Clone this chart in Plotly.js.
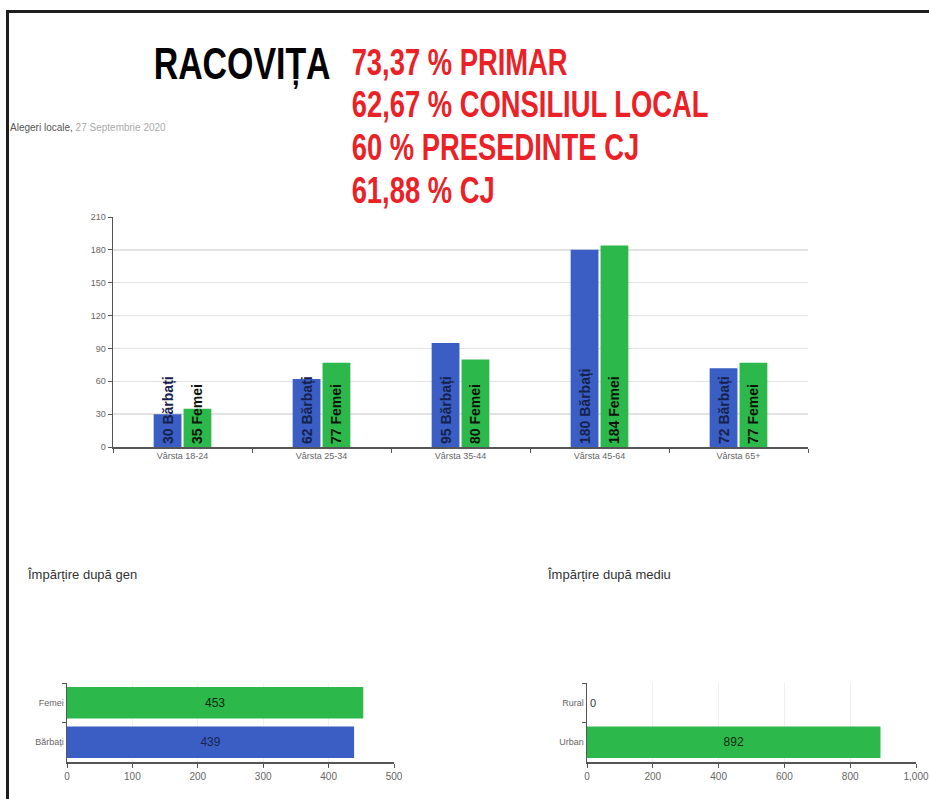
<!DOCTYPE html>
<html>
<head>
<meta charset="utf-8">
<script src="https://cdn.plot.ly/plotly-3.0.1.min.js"></script>
<style>
  html, body { margin: 0; padding: 0; background: #fff; }
  #wrap { position: relative; width: 929px; height: 799px; }
  #chart { width: 929px; height: 799px; }
  #frame { position: absolute; left: 6px; top: 10px; right: 0; bottom: 0;
           border-top: 3px solid #1e1e1e; border-left: 3px solid #1e1e1e; pointer-events: none; }
</style>
</head>
<body>
<div id="wrap"><div id="chart"></div><div id="frame"></div></div>
<script>
// ---- data ----
const ageCategories = ['Vârsta 18-24', 'Vârsta 25-34', 'Vârsta 35-44', 'Vârsta 45-64', 'Vârsta 65+'];
const menValues = [30, 62, 95, 180, 72];
const womenValues = [35, 77, 80, 184, 77];
const menLabel = 'Bărbați';
const womenLabel = 'Femei';
const ageTicks = [0, 30, 60, 90, 120, 150, 180, 210];

const genderCategories = ['Bărbați', 'Femei'];
const genderValues = [439, 453];
const genderTicks = [0, 100, 200, 300, 400, 500];

const areaCategories = ['Urban', 'Rural'];
const areaValues = [892, 0];
const areaTicks = [0, 200, 400, 600, 800, 1000];

const headline = 'RACOVIȚA';
const results = ['73,37 % PRIMAR', '62,67 % CONSILIUL LOCAL', '60 % PRESEDINTE CJ', '61,88 % CJ'];
const subtitleA = 'Alegeri locale,';
const subtitleB = '27 Septembrie 2020';
const genderTitle = 'Împărțire după gen';
const areaTitle = 'Împărțire după mediu';

// ---- styles ----
const BLUE = '#3a5ec4';
const GREEN = '#2cb84a';
const W = 929, H = 799;
const px = x => x / W;
const py = y => 1 - y / H;
const SANS = 'Liberation Sans, Arial, sans-serif';
const tickFont = { family: SANS, size: 9, color: '#666' };

const traces = [
  {
    type: 'bar', x: ageCategories, y: menValues, xaxis: 'x', yaxis: 'y',
    marker: { color: BLUE },
    text: menValues.map(v => v + ' ' + menLabel),
    textposition: 'inside', insidetextanchor: 'start', textangle: -90, constraintext: 'none',
    textfont: { family: SANS, size: 14, color: '#16224d', weight: 'bold' },
    hoverinfo: 'skip', cliponaxis: false
  },
  {
    type: 'bar', x: ageCategories, y: womenValues, xaxis: 'x', yaxis: 'y',
    marker: { color: GREEN },
    text: womenValues.map(v => v + ' ' + womenLabel),
    textposition: 'inside', insidetextanchor: 'start', textangle: -90, constraintext: 'none',
    textfont: { family: SANS, size: 14, color: '#0a140a', weight: 'bold' },
    hoverinfo: 'skip', cliponaxis: false
  },
  {
    type: 'bar', orientation: 'h', y: genderCategories, x: genderValues, xaxis: 'x2', yaxis: 'y2',
    marker: { color: [BLUE, GREEN] }, width: 0.8,
    text: genderValues.map(String), textposition: 'inside', insidetextanchor: 'middle', textangle: 0,
    textfont: { family: SANS, size: 12, color: ['#1a2550', '#0f2a12'] },
    hoverinfo: 'skip'
  },
  {
    type: 'bar', orientation: 'h', y: areaCategories, x: areaValues, xaxis: 'x3', yaxis: 'y3',
    marker: { color: [GREEN, GREEN] }, width: 0.8,
    text: areaValues.map(String), textposition: ['inside', 'outside'], insidetextanchor: 'middle', textangle: 0,
    textfont: { family: SANS, size: 12, color: '#0f2a12' },
    outsidetextfont: { family: SANS, size: 11, color: '#333' },
    hoverinfo: 'skip', cliponaxis: false
  }
];

const axisLine = { showline: true, linecolor: '#555', linewidth: 1.5, ticks: 'outside', ticklen: 4, tickcolor: '#555', tickfont: tickFont, zeroline: false, fixedrange: true };

const annotations = [
  { text: '<b>' + headline + '</b>', x: px(152), y: py(64), xref: 'paper', yref: 'paper', xanchor: 'left', yanchor: 'middle', showarrow: false,
    font: { family: SANS, size: 44, color: '#000' } }
];
const redY = [62.5, 104.5, 147, 191];
results.forEach((t, i) => annotations.push({
  text: '<b>' + t + '</b>', x: px(350), y: py(redY[i]), xref: 'paper', yref: 'paper', xanchor: 'left', yanchor: 'middle', showarrow: false,
  font: { family: SANS, size: 37, color: '#ea2227' }
}));
annotations.push({
  text: '<span style="color:#555">' + subtitleA + '</span> <span style="color:#aaa">' + subtitleB + '</span>',
  x: px(8), y: py(128), xref: 'paper', yref: 'paper', xanchor: 'left', yanchor: 'middle', showarrow: false,
  font: { family: SANS, size: 10, color: '#666' }
});
annotations.push({ text: genderTitle, x: px(25), y: py(574), xref: 'paper', yref: 'paper', xanchor: 'left', yanchor: 'middle', showarrow: false,
  font: { family: SANS, size: 13, color: '#333' } });
annotations.push({ text: areaTitle, x: px(545), y: py(574), xref: 'paper', yref: 'paper', xanchor: 'left', yanchor: 'middle', showarrow: false,
  font: { family: SANS, size: 13, color: '#333' } });

const layout = {
  width: W, height: H,
  margin: { l: 0, r: 0, t: 0, b: 0 },
  paper_bgcolor: '#fff', plot_bgcolor: 'rgba(0,0,0,0)',
  showlegend: false,
  barmode: 'group', bargap: 0.57, bargroupgap: 0.07,
  xaxis: Object.assign({}, axisLine, { domain: [px(113), px(808)], type: 'category', tickson: 'boundaries', showgrid: false, anchor: 'y' }),
  yaxis: Object.assign({}, axisLine, { domain: [py(447), py(217)], range: [0, 210], tickvals: ageTicks, showgrid: true, gridcolor: '#e2e2e2', gridwidth: 1.5, anchor: 'x' }),
  xaxis2: Object.assign({}, axisLine, { domain: [px(67), px(394)], range: [0, 500], tickvals: genderTicks, showgrid: true, gridcolor: '#f2f2f2', anchor: 'y2', tickfont: Object.assign({}, tickFont, { size: 10 }) }),
  yaxis2: Object.assign({}, axisLine, { domain: [py(762), py(683)], type: 'category', tickson: 'boundaries', showgrid: false, anchor: 'x2' }),
  xaxis3: Object.assign({}, axisLine, { domain: [px(587), px(916)], range: [0, 1000], tickvals: areaTicks, tickformat: ',', showgrid: true, gridcolor: '#efefef', anchor: 'y3', tickfont: Object.assign({}, tickFont, { size: 10 }) }),
  yaxis3: Object.assign({}, axisLine, { domain: [py(762), py(683)], type: 'category', tickson: 'boundaries', showgrid: false, anchor: 'x3' }),
  annotations: annotations
};

// horizontal condensing of the headline texts (narrow typeface look)
const condense = { 0: 0.77, 1: 0.74, 2: 0.74, 3: 0.74, 4: 0.74 };

Plotly.newPlot('chart', traces, layout, { staticPlot: true, displayModeBar: false }).then(gd => {
  Object.keys(condense).forEach(idx => {
    const g = gd.querySelector('.annotation[data-index="' + idx + '"] .annotation-text-g');
    if (!g) return;
    const bb = g.getBBox();
    const base = g.getAttribute('transform') || '';
    const s = condense[idx];
    g.setAttribute('transform', base + ' translate(' + bb.x + ',0) scale(' + s + ',1) translate(' + (-bb.x) + ',0)');
  });
});
</script>
</body>
</html>
